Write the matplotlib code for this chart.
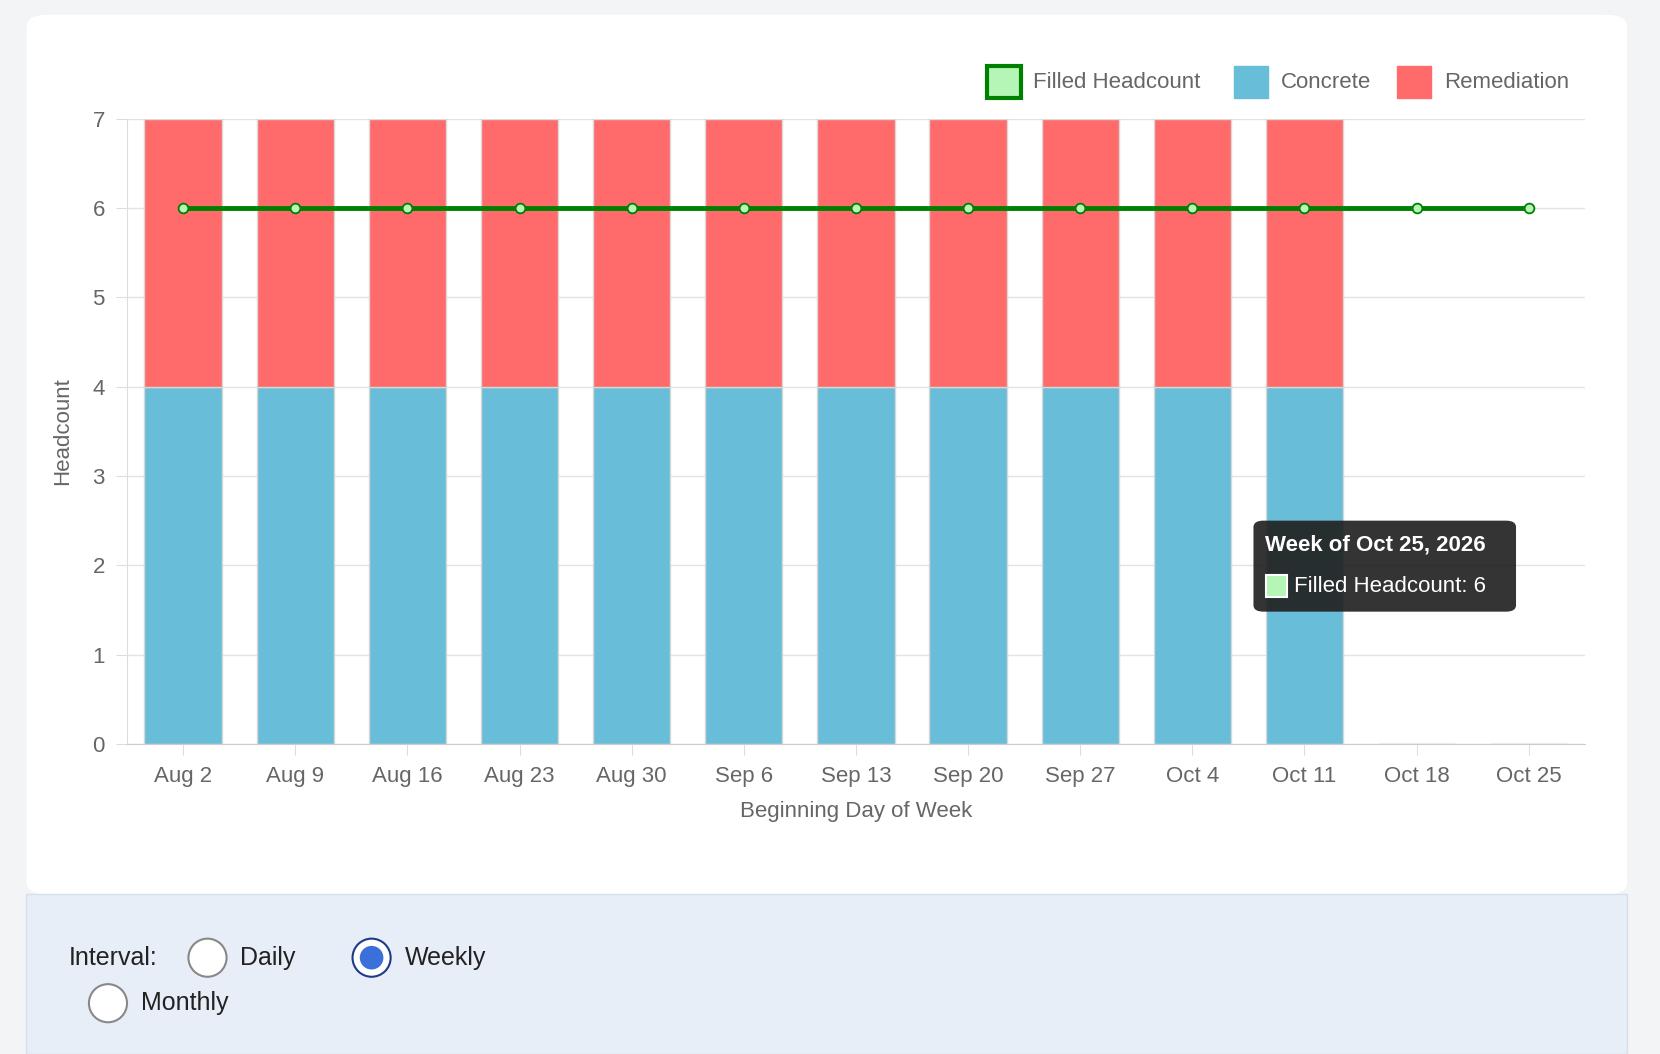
import matplotlib.pyplot as plt
from matplotlib.patches import FancyBboxPatch, Rectangle, Ellipse
import numpy as np

plt.rcParams['font.family'] = ['Liberation Sans', 'DejaVu Sans']

weeks = ['Aug 2', 'Aug 9', 'Aug 16', 'Aug 23', 'Aug 30', 'Sep 6', 'Sep 13',
         'Sep 20', 'Sep 27', 'Oct 4', 'Oct 11', 'Oct 18', 'Oct 25']
concrete = [4, 4, 4, 4, 4, 4, 4, 4, 4, 4, 4, 0, 0]
remediation = [3, 3, 3, 3, 3, 3, 3, 3, 3, 3, 3, 0, 0]
filled = [6, 6, 6, 6, 6, 6, 6, 6, 6, 6, 6, 6, 6]

W, H = 1568, 996  # reference pixel frame
fig = plt.figure(figsize=(16.6, 10.54), dpi=100)
fig.patch.set_facecolor('#f3f4f6')

def fx(x): return x / W
def fy(y): return 1 - y / H

# white card and the blue control panel
fig.patches.append(FancyBboxPatch((fx(25), fy(845)), fx(1537) - fx(25), fy(14) - fy(845),
                                  boxstyle='round,pad=0,rounding_size=0.012', transform=fig.transFigure,
                                  facecolor='white', edgecolor='none', zorder=-2))
fig.patches.append(Rectangle((fx(25), 0), fx(1537) - fx(25), fy(845), transform=fig.transFigure,
                             facecolor='#e8eef8', edgecolor='#d6dfec', lw=1, zorder=-2))

ax = fig.add_axes([fx(120), fy(703), fx(1497) - fx(120), fy(112) - fy(703)])
ax.set_zorder(1)
ax.set_facecolor('none')
x = np.arange(len(weeks))
ax.bar(x, concrete, width=0.69, color='#68bdd8', edgecolor='#d8d8d8', lw=1, zorder=2)
ax.bar(x, remediation, bottom=concrete, width=0.69, color='#ff6b6b', edgecolor='#d8d8d8', lw=1, zorder=2)
ax.plot(x, filled, color='#008000', lw=3.5, marker='o', ms=7, mfc='#b5f5b5', mec='#008000', mew=1.3, zorder=3)

ax.set_xlim(-0.5, len(weeks) - 0.5)
ax.set_ylim(0, 7)
ax.set_yticks(range(8))
ax.set_xticks(x)
ax.set_xticklabels(weeks)
ax.tick_params(labelsize=16, colors='#666666', length=8, color='#dddddd', pad=8)
ax.grid(axis='y', color='#e3e3e3', lw=1, zorder=0)
for s in ['top', 'right']:
    ax.spines[s].set_visible(False)
ax.spines['left'].set_color('#dddddd')
ax.spines['bottom'].set_color('#cccccc')
ax.set_xlabel('Beginning Day of Week', fontsize=16, color='#666666', labelpad=10)
ax.set_ylabel('Headcount', fontsize=16, color='#666666', labelpad=14)

# legend
lg = [(932, 'Filled Headcount', '#b5f5b5', '#008000', 3), (1166, 'Concrete', '#68bdd8', '#68bdd8', 1),
      (1320, 'Remediation', '#ff6b6b', '#ff6b6b', 1)]
for lx, txt, fc, ec, lw in lg:
    fig.patches.append(Rectangle((fx(lx), fy(93)), fx(32), fy(62) - fy(93), transform=fig.transFigure,
                                 facecolor=fc, edgecolor=ec, lw=lw))
    fig.text(fx(lx + 44), fy(78), txt, fontsize=16, color='#666666', va='center')

# tooltip
fig.patches.append(FancyBboxPatch((fx(1184), fy(578)), fx(248), fy(492) - fy(578),
                                  boxstyle='round,pad=0,rounding_size=0.006', transform=fig.transFigure,
                                  facecolor='#222222', alpha=0.92, edgecolor='none', zorder=5))
fig.text(fx(1195), fy(515), 'Week of Oct 25, 2026', fontsize=16, weight='bold', color='white', va='center', zorder=6)
fig.patches.append(Rectangle((fx(1196), fy(564)), fx(20), fy(543) - fy(564), transform=fig.transFigure,
                             facecolor='#b5f5b5', edgecolor='white', lw=1.5, zorder=6))
fig.text(fx(1222), fy(554), 'Filled Headcount: 6', fontsize=16, color='white', va='center', zorder=6)

# interval radio controls
fig.text(fx(65), fy(905), 'Interval:', fontsize=18, color='#222222', va='center')
d = 36 / W
asp = 1660 / 1054
for cx, cy, txt, on in [(196, 905, 'Daily', False), (351, 905, 'Weekly', True), (102, 948, 'Monthly', False)]:
    fig.patches.append(Ellipse((fx(cx), fy(cy)), d, d * asp, transform=fig.transFigure, facecolor='white',
                               edgecolor='#1e3a8a' if on else '#888888', lw=1.5))
    if on:
        fig.patches.append(Ellipse((fx(cx), fy(cy)), d * 0.62, d * 0.62 * asp, transform=fig.transFigure,
                                   facecolor='#3b6fd9', edgecolor='none'))
    fig.text(fx(cx + 31), fy(cy), txt, fontsize=18, color='#222222', va='center')

fig.savefig('out.png', dpi=100, facecolor=fig.get_facecolor())
